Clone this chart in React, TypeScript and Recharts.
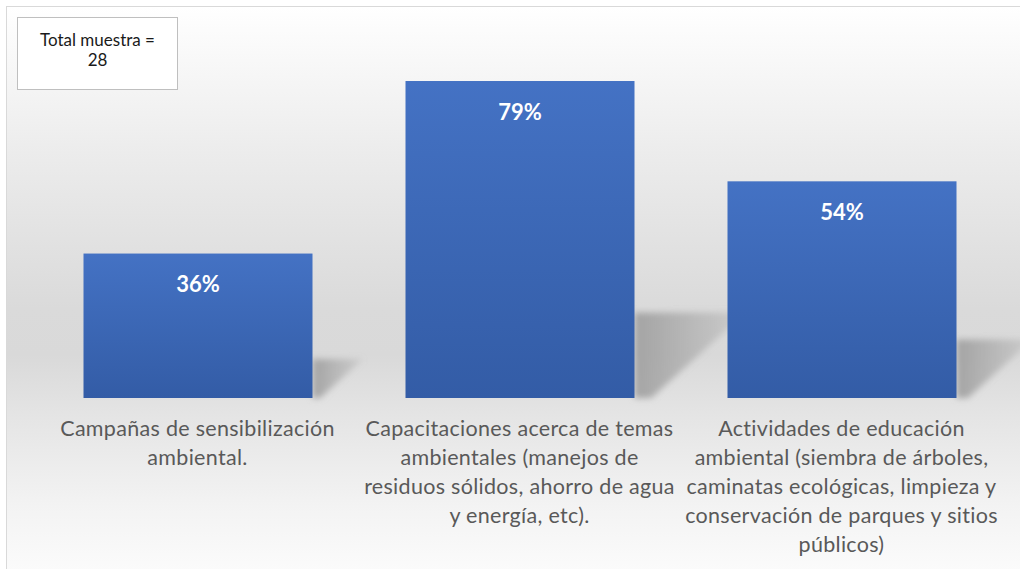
import React from "react";
import { BarChart, Bar, XAxis, YAxis, LabelList } from "recharts";

const categories = [
  "Campañas de sensibilización ambiental.",
  "Capacitaciones acerca de temas ambientales (manejos de residuos sólidos, ahorro de agua y energía, etc).",
  "Actividades de educación ambiental (siembra de árboles, caminatas ecológicas, limpieza y conservación de parques y sitios públicos)",
];
const categoryLines = [
  ["Campañas de sensibilización", "ambiental."],
  ["Capacitaciones acerca de temas", "ambientales (manejos de", "residuos sólidos, ahorro de agua", "y energía, etc)."],
  ["Actividades de educación", "ambiental (siembra de árboles,", "caminatas ecológicas, limpieza y", "conservación de parques y sitios", "públicos)"],
];
const values = [36, 79, 54];
const totalLabel = ["Total muestra =", "28"];

const data = categories.map((c, i) => ({ name: c, value: values[i], idx: i }));

const FONT = "Lato, 'Open Sans', sans-serif";

const BarShape = (props: any) => {
  const { x, y, width, height } = props;
  const R = x + width;
  const B = y + height;
  const h = height * 0.27;
  const w = h * 1.3;
  return (
    <g>
      <polygon
        points={`${R},${B} ${R},${B - h} ${R + w},${B - h} ${R + 0.15 * w},${B}`}
        fill="url(#shadowGrad)"
        filter="url(#blurShadow)"
      />
      <rect x={x} y={y} width={width} height={height} fill="url(#barGrad)" />
    </g>
  );
};

const Tick = (props: any) => {
  const { x, y, payload } = props;
  const lines = categoryLines[payload.index] || [];
  return (
    <text
      x={x}
      y={y + 30}
      textAnchor="middle"
      fill="#595959"
      style={{ fontFamily: FONT, fontSize: 21.5, letterSpacing: 0.3 }}
    >
      {lines.map((l, i) => (
        <tspan key={i} x={x} dy={i === 0 ? 0 : 29}>
          {l}
        </tspan>
      ))}
    </text>
  );
};

const ValueLabel = (props: any) => {
  const { x, y, width, value } = props;
  return (
    <text
      x={x + width / 2}
      y={y + 38.5}
      textAnchor="middle"
      fill="#ffffff"
      style={{ fontFamily: FONT, fontSize: 22, fontWeight: 700 }}
    >
      {`${value}%`}
    </text>
  );
};

export default function App() {
  return (
    <div style={{ position: "absolute", left: 0, top: 0, width: 1020, height: 569, overflow: "hidden", background: "#ffffff" }}>
      <div
        style={{
          position: "absolute",
          left: 6,
          top: 6,
          width: 1030,
          height: 580,
          borderLeft: "1.5px solid #d9d9d9",
          borderTop: "1.5px solid #d9d9d9",
          background:
            "linear-gradient(to bottom, #ffffff 0%, #ececec 25%, #dadada 52%, #d9d9d9 60%, #e4e4e4 70%, #f3f3f3 86%, #fdfdfd 100%)",
        }}
      />
      <div style={{ position: "absolute", left: 0, top: 0 }}>
        <BarChart
          width={1020}
          height={569}
          data={data}
          margin={{ top: 77, right: 17.5, bottom: 0, left: 36.5 }}
          barSize={229}
        >
          <defs>
            <linearGradient id="barGrad" x1="0" y1="0" x2="0" y2="1">
              <stop offset="0%" stopColor="#4472c4" />
              <stop offset="100%" stopColor="#335ca6" />
            </linearGradient>
            <linearGradient id="shadowGrad" x1="0" y1="0" x2="1" y2="0">
              <stop offset="0%" stopColor="#9a9a9a" stopOpacity={0.85} />
              <stop offset="100%" stopColor="#9a9a9a" stopOpacity={0.2} />
            </linearGradient>
            <filter id="blurShadow" x="-30%" y="-30%" width="160%" height="160%">
              <feGaussianBlur stdDeviation="3" />
            </filter>
          </defs>
          <YAxis hide domain={[0, 80]} />
          <XAxis
            dataKey="name"
            axisLine={false}
            tickLine={false}
            height={171}
            interval={0}
            tick={<Tick />}
          />
          <Bar dataKey="value" shape={<BarShape />} isAnimationActive={false}>
            <LabelList dataKey="value" content={<ValueLabel />} />
          </Bar>
        </BarChart>
      </div>
      <div
        style={{
          position: "absolute",
          left: 17,
          top: 17,
          width: 161,
          height: 73,
          boxSizing: "border-box",
          border: "1.5px solid #bfbfbf",
          background: "#ffffff",
          fontFamily: FONT,
          fontSize: 17,
          lineHeight: "20px",
          color: "#1a1a1a",
          textAlign: "center",
          paddingTop: 12,
        }}
      >
        <div>{totalLabel[0]}</div>
        <div>{totalLabel[1]}</div>
      </div>
    </div>
  );
}
